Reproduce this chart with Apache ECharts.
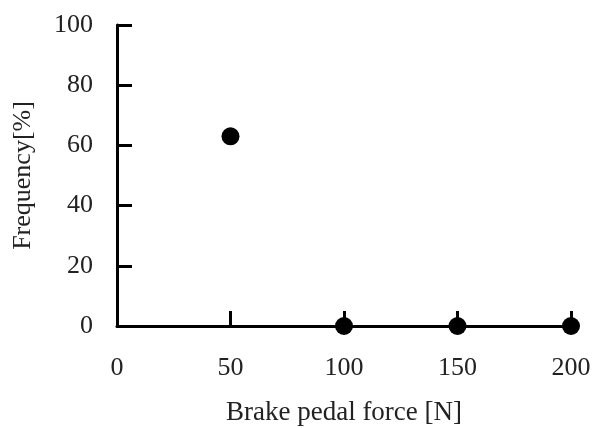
<!DOCTYPE html>
<html>
<head>
<meta charset="utf-8">
<script src="https://cdn.jsdelivr.net/npm/echarts@6/dist/echarts.min.js"></script>
<style>
  html, body { margin: 0; padding: 0; background: #fff; }
  #chart { width: 593px; height: 428px; }
</style>
</head>
<body>
<div id="chart"></div>
<script>
// 数据
var forceValues = [50, 100, 150, 200];
var frequencyValues = [63, 0, 0, 0];

var chart = echarts.init(document.getElementById('chart'));
var font = '"Liberation Serif", "Times New Roman", serif';

var points = [];
for (var i = 0; i < forceValues.length; i++) {
    points.push([forceValues[i], frequencyValues[i]]);
}

var option = {
    animation: false,
    grid: { left: 117, right: 22, top: 25, bottom: 102, outerBoundsMode: 'none' },
    xAxis: {
        type: 'value',
        min: 0, max: 200, interval: 50,
        name: 'Brake pedal force [N]',
        nameLocation: 'middle',
        nameGap: 73,
        nameTextStyle: { fontFamily: font, fontSize: 27, color: '#222' },
        axisLine: { lineStyle: { color: '#000', width: 3 } },
        axisTick: { inside: true, length: 15, lineStyle: { color: '#000', width: 3 } },
        axisLabel: { fontFamily: font, fontSize: 26, color: '#222', margin: 29 },
        splitLine: { show: false }
    },
    yAxis: {
        type: 'value',
        min: 0, max: 100, interval: 20,
        name: 'Frequency[%]',
        nameLocation: 'middle',
        nameGap: 81,
        nameTextStyle: { fontFamily: font, fontSize: 26, color: '#222' },
        axisLine: { show: true, lineStyle: { color: '#000', width: 3 } },
        axisTick: { show: true, inside: true, length: 15, lineStyle: { color: '#000', width: 3 } },
        axisLabel: { fontFamily: font, fontSize: 26, color: '#222', margin: 24 },
        splitLine: { show: false }
    },
    series: [{
        type: 'scatter',
        data: points,
        symbolSize: 18,
        itemStyle: { color: '#000', opacity: 1 }
    }]
};
chart.setOption(option);
</script>
</body>
</html>
